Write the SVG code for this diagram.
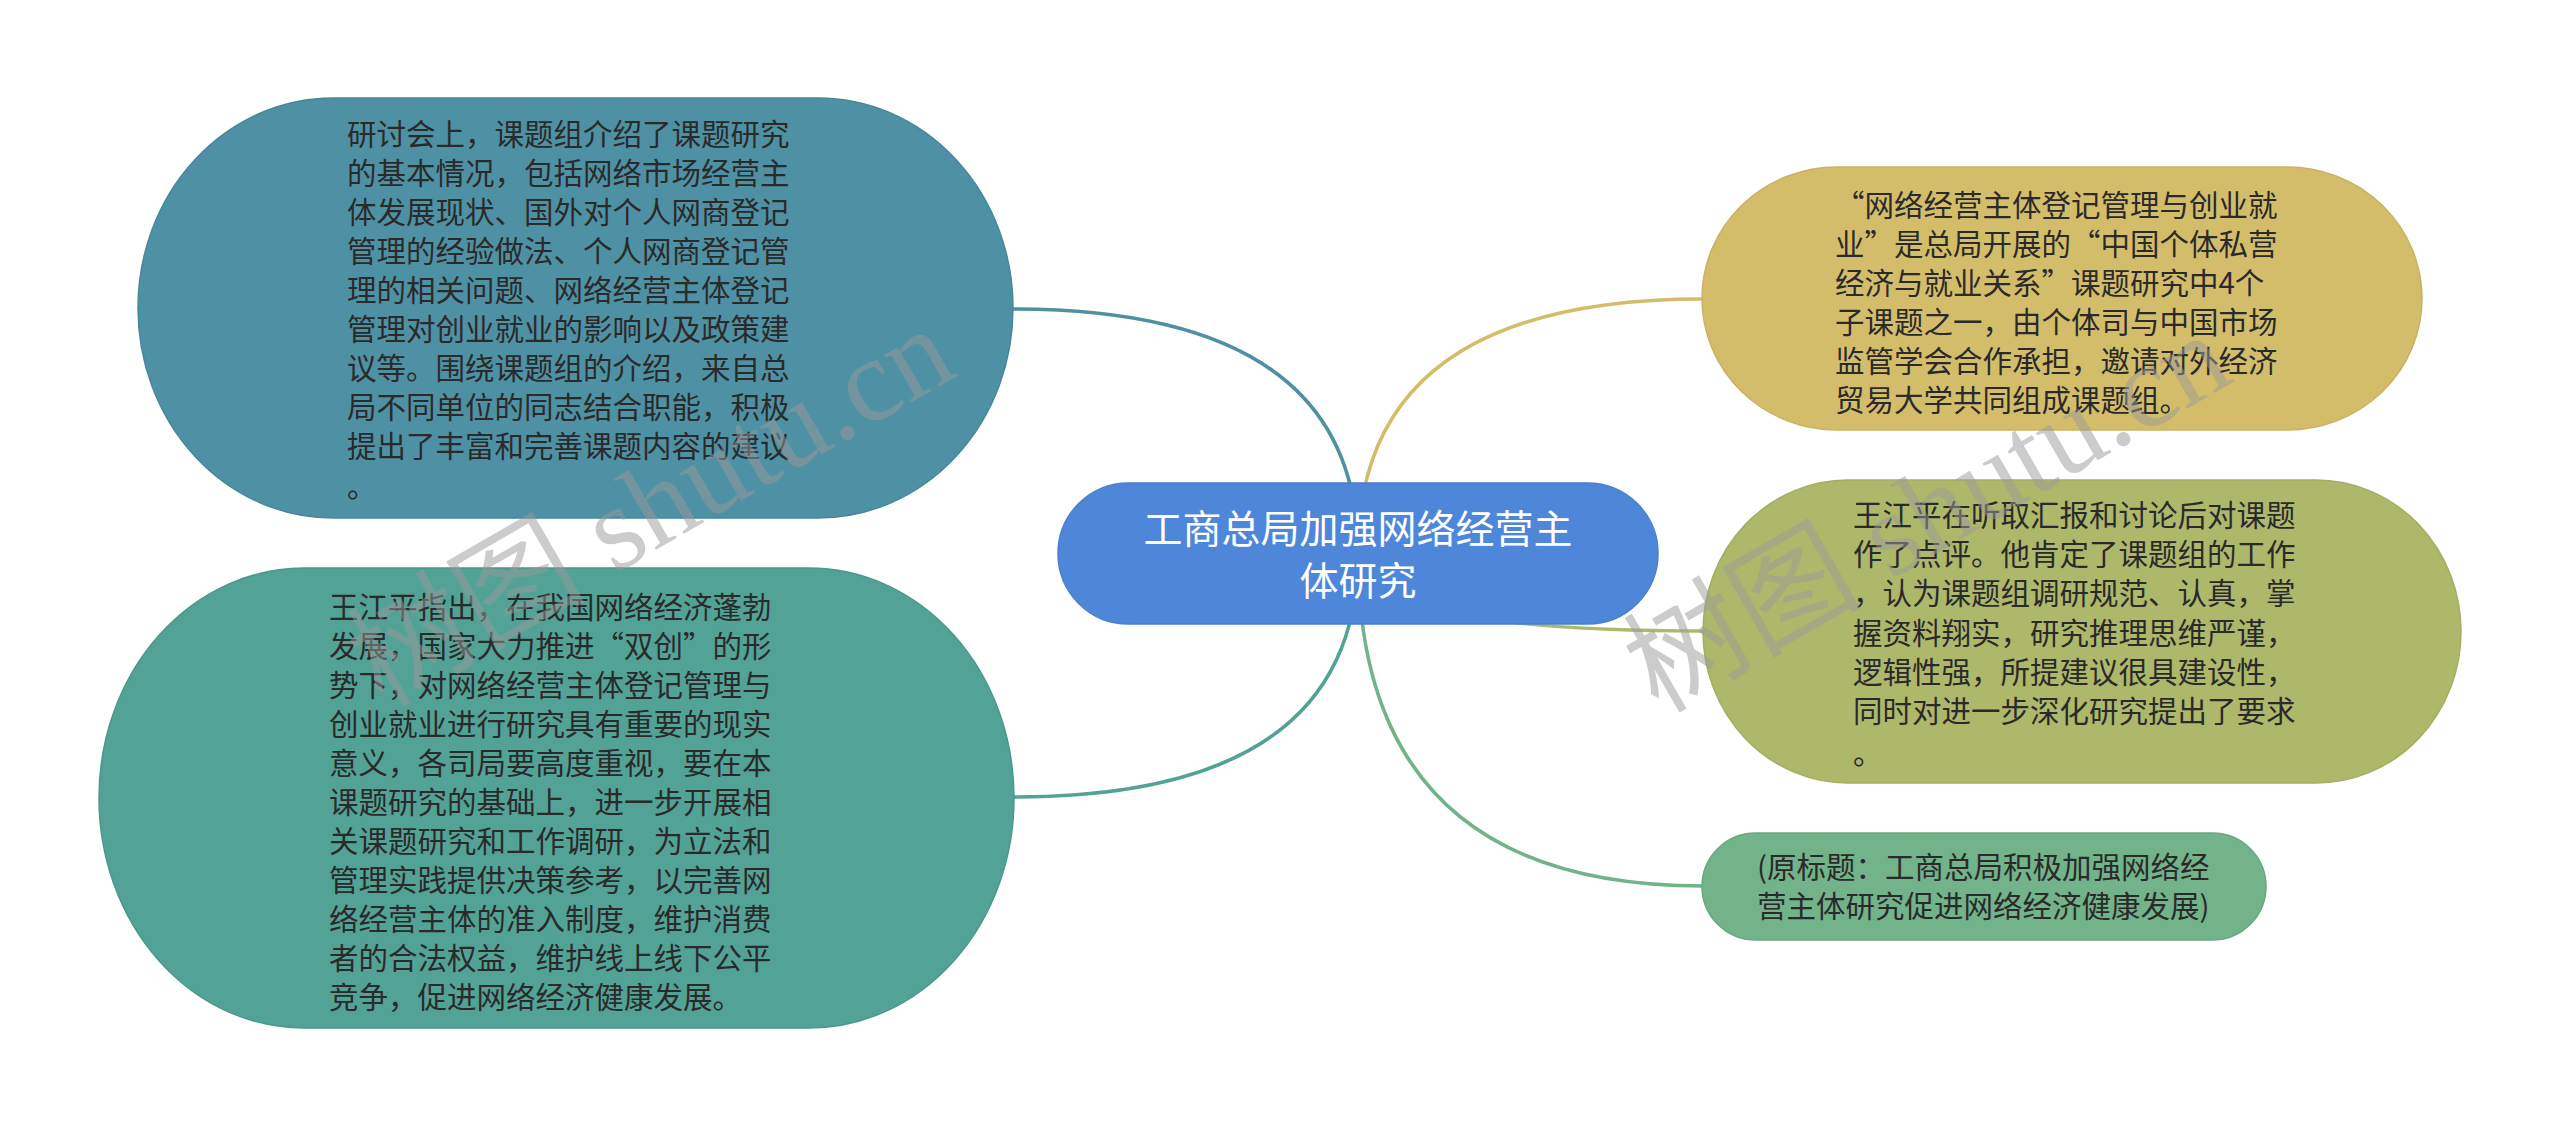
<svg xmlns="http://www.w3.org/2000/svg" width="2560" height="1127" viewBox="0 0 2560 1127">
<style>
.t{font-family:"Noto Sans CJK SC","Liberation Sans",sans-serif;font-size:29.5px;fill:#2a2a2a}
.c{font-family:"Noto Sans CJK SC","Liberation Sans",sans-serif;font-size:39px;fill:#ffffff;text-anchor:middle}
.ln{fill:none;stroke-width:3.5}
.wm{font-family:"Liberation Serif","Noto Sans CJK SC",serif;font-size:119px;fill:#9a9a9a;fill-opacity:0.5}
</style>
<rect width="2560" height="1127" fill="#ffffff"/>
<g id="connectors">
<path class="ln" stroke="#4E91A3" d="M1013,309 Q1358,309 1358,553"/>
<path class="ln" stroke="#52A396" d="M1014,797 Q1358,797 1358,553"/>
<path class="ln" stroke="#D4BD6A" d="M1703,299 Q1358,299 1358,553"/>
<path class="ln" stroke="#AEB86A" d="M1704,631 Q1358,631 1358,553"/>
<path class="ln" stroke="#72B38A" d="M1703,886 Q1358,886 1358,553"/>
</g>
<g id="node1">
<rect x="138" y="98" width="875" height="420" rx="195" ry="210" fill="#4F91A4" stroke="#47879a" stroke-width="1.5"/>
<text class="t" x="347"><tspan x="347" y="145">研讨会上，课题组介绍了课题研究</tspan><tspan x="347" y="184">的基本情况，包括网络市场经营主</tspan><tspan x="347" y="223">体发展现状、国外对个人网商登记</tspan><tspan x="347" y="262">管理的经验做法、个人网商登记管</tspan><tspan x="347" y="301">理的相关问题、网络经营主体登记</tspan><tspan x="347" y="340">管理对创业就业的影响以及政策建</tspan><tspan x="347" y="379">议等。围绕课题组的介绍，来自总</tspan><tspan x="347" y="418">局不同单位的同志结合职能，积极</tspan><tspan x="347" y="457">提出了丰富和完善课题内容的建议</tspan><tspan x="347" y="497">。</tspan></text>
</g>
<g id="node2">
<rect x="99" y="568" width="915" height="460" rx="205" ry="230" fill="#52A396" stroke="#4a988b" stroke-width="1.5"/>
<text class="t"><tspan x="329" y="618">王江平指出，在我国网络经济蓬勃</tspan><tspan x="329" y="657">发展，国家大力推进“双创”的形</tspan><tspan x="329" y="696">势下，对网络经营主体登记管理与</tspan><tspan x="329" y="735">创业就业进行研究具有重要的现实</tspan><tspan x="329" y="774">意义，各司局要高度重视，要在本</tspan><tspan x="329" y="813">课题研究的基础上，进一步开展相</tspan><tspan x="329" y="852">关课题研究和工作调研，为立法和</tspan><tspan x="329" y="891">管理实践提供决策参考，以完善网</tspan><tspan x="329" y="930">络经营主体的准入制度，维护消费</tspan><tspan x="329" y="969">者的合法权益，维护线上线下公平</tspan><tspan x="329" y="1008">竞争，促进网络经济健康发展。</tspan></text>
</g>
<g id="node0">
<rect x="1058" y="483" width="600" height="141" rx="70.5" ry="70.5" fill="#4E87D9" stroke="#4a80cc" stroke-width="1.5"/>
<text class="c"><tspan x="1358" y="543">工商总局加强网络经营主</tspan><tspan x="1358" y="595">体研究</tspan></text>
</g>
<g id="node3">
<rect x="1702" y="167" width="720" height="263" rx="135" ry="131.5" fill="#D4BD6A" stroke="#c9b262" stroke-width="1.5"/>
<text class="t"><tspan x="1835" y="216">“网络经营主体登记管理与创业就</tspan><tspan x="1835" y="255">业”是总局开展的“中国个体私营</tspan><tspan x="1835" y="294">经济与就业关系”课题研究中4个</tspan><tspan x="1835" y="333">子课题之一，由个体司与中国市场</tspan><tspan x="1835" y="372">监管学会合作承担，邀请对外经济</tspan><tspan x="1835" y="411">贸易大学共同组成课题组。</tspan></text>
</g>
<g id="node4">
<rect x="1703" y="480" width="758" height="303" rx="145" ry="151.5" fill="#AEB86A" stroke="#a4ae62" stroke-width="1.5"/>
<text class="t"><tspan x="1853" y="526">王江平在听取汇报和讨论后对课题</tspan><tspan x="1853" y="565">作了点评。他肯定了课题组的工作</tspan><tspan x="1853" y="604">，认为课题组调研规范、认真，掌</tspan><tspan x="1853" y="644">握资料翔实，研究推理思维严谨，</tspan><tspan x="1853" y="683">逻辑性强，所提建议很具建设性，</tspan><tspan x="1853" y="722">同时对进一步深化研究提出了要求</tspan><tspan x="1853" y="764">。</tspan></text>
</g>
<g id="node5">
<rect x="1702" y="833" width="564" height="107" rx="53.5" ry="53.5" fill="#72B38A" stroke="#69a880" stroke-width="1.5"/>
<text class="t"><tspan x="1757" y="878">(原标题：工商总局积极加强网络经</tspan><tspan x="1757" y="917">营主体研究促进网络经济健康发展)</tspan></text>
</g>
<g id="watermark">
<text class="wm" transform="translate(382,708) rotate(-30)">树图 shutu.cn</text>
<text class="wm" transform="translate(1658,714) rotate(-30)">树图 shutu.cn</text>
</g>
</svg>
